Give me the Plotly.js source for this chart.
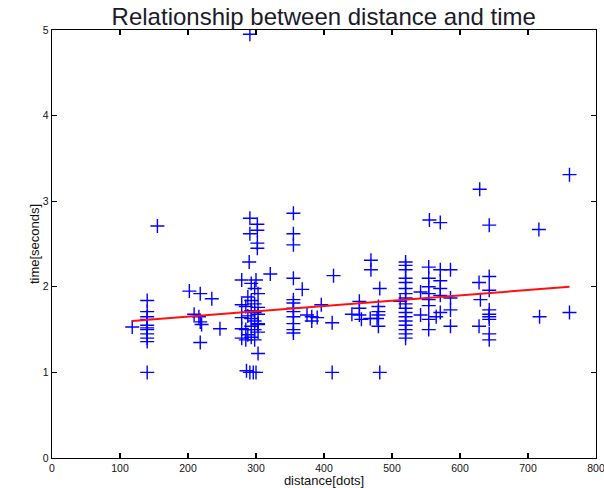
<!DOCTYPE html>
<html><head><meta charset="utf-8">
<script src="https://cdn.plot.ly/plotly-3.0.1.min.js"></script>
<style>html,body{margin:0;padding:0;background:#fff;}#chart{width:604px;height:488px;}</style>
</head><body><div id="chart"></div>
<script>
const distance = [
 118,
 140,140,140,140,140,140,140,140,140,140,140,
 155,
 202,218,235,209,216,218,220,247,218,
 279,279,279,279,279,
 291,291,302,291,302,302,302,290,300,321,
 285,285,285,303,286,291,296,300,
 293,298,303,288,293,298,303,293,298,303,288,293,298,303,293,298,303,288,293,298,303,
 355,355,355,355,368,355,355,355,355,355,355,355,355,
 375,382,390,382,396,414,412,412,
 469,469,482,452,452,452,441,455,468,480,480,480,478,480,482,
 520,520,520,520,520,520,520,520,520,520,520,520,520,520,520,520,520,
 512,542,542,
 555,571,554,554,554,554,554,554,554,554,571,571,571,571,571,565,586,586,586,586,
 629,628,630,628,643,643,643,643,643,643,643,643,643,
 716,717,761,761
];
const time = [
 1.53,
 1.84,1.71,1.65,1.62,1.55,1.52,1.50,1.45,1.40,1.36,1.00,
 2.71,
 1.95,1.92,1.86,1.68,1.65,1.59,1.56,1.51,1.35,
 2.08,1.79,1.64,1.51,1.40,
 4.95,2.80,2.73,2.62,2.66,2.51,2.45,2.29,2.08,2.15,
 1.77,1.50,1.38,1.22,1.02,1.00,1.00,1.00,
 2.04,1.98,1.92,1.88,1.84,1.80,1.76,1.72,1.70,1.68,1.66,1.63,1.60,1.57,1.54,1.50,1.47,1.44,1.41,1.38,1.56,
 2.86,2.62,2.49,2.10,1.97,1.85,1.81,1.75,1.71,1.65,1.57,1.50,1.46,
 1.67,1.65,1.64,1.60,1.79,2.13,1.58,1.00,
 2.31,2.20,1.98,1.83,1.75,1.67,1.68,1.62,1.63,1.77,1.71,1.67,1.63,1.54,1.00,
 2.29,2.25,2.20,2.10,2.05,1.98,1.92,1.87,1.80,1.75,1.70,1.65,1.60,1.55,1.50,1.45,1.40,
 1.83,1.94,1.67,
 2.78,2.75,2.23,2.10,2.00,1.92,1.85,1.78,1.62,1.50,2.20,2.07,1.98,1.90,1.70,1.65,2.20,1.87,1.73,1.54,
 3.14,2.05,1.85,1.54,2.72,2.12,1.96,1.73,1.68,1.65,1.62,1.45,1.38,
 2.67,1.65,3.31,1.70
];
const fitDistance = [118, 761];
const fitTime = [1.60, 2.00];
const xTicks = [0,100,200,300,400,500,600,700,800];
const yTicks = [0,1,2,3,4,5];

const FONT = 'Liberation Sans, Arial, sans-serif';
const axisCommon = {
  showline: true, linecolor: '#000', linewidth: 1.2, mirror: 'ticks',
  ticks: 'inside', ticklen: 5, tickwidth: 1.2, tickcolor: '#000',
  showgrid: false, zeroline: false, ticklabeloverflow: 'allow',
  tickfont: {family: FONT, size: 10.5, color: '#111'}
};

Plotly.newPlot('chart', [
  {x: distance, y: time, type: 'scatter', mode: 'markers',
   marker: {symbol: 'cross-thin', size: 10, color: '#0000ff', line: {color: '#0000ff', width: 1.4}},
   showlegend: false, hoverinfo: 'skip'},
  {x: fitDistance, y: fitTime, type: 'scatter', mode: 'lines',
   line: {color: '#ff1010', width: 2}, showlegend: false, hoverinfo: 'skip'}
], {
  width: 604, height: 488,
  margin: {l: 52, r: 8, t: 30, b: 30},
  paper_bgcolor: '#fff', plot_bgcolor: '#fff',
  title: {text: 'Relationship between distance and time', x: 0.536, xanchor: 'center', y: 0.965, yanchor: 'middle',
          font: {family: FONT, size: 24, color: '#1a1a2a'}},
  xaxis: Object.assign({}, axisCommon, {range: [0, 800], tickvals: xTicks, ticktext: xTicks.map(String),
          title: {text: 'distance[dots]', standoff: 0, font: {family: FONT, size: 13, color: '#111'}}}),
  yaxis: Object.assign({}, axisCommon, {range: [0, 5], tickvals: yTicks, ticktext: yTicks.map(String),
          title: {text: 'time[seconds]', standoff: 0, font: {family: FONT, size: 13, color: '#111'}}})
}, {staticPlot: true});
</script></body></html>
